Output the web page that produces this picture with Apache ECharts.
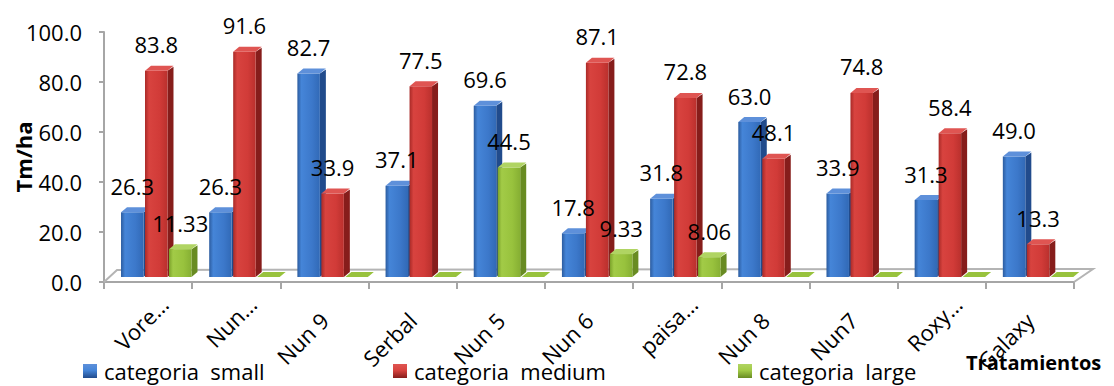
<!DOCTYPE html>
<html>
<head>
<meta charset="utf-8">
<script src="https://cdn.jsdelivr.net/npm/echarts@6/dist/echarts.min.js"></script>
<style>
  html, body { margin: 0; padding: 0; background: #ffffff; }
  #chart { width: 1114px; height: 386px; }
</style>
</head>
<body>
<div id="chart"></div>
<script>
// Yield per treatment (Tm/ha) by size category
const categories = ['Vore…', 'Nun…', 'Nun 9', 'Serbal', 'Nun 5', 'Nun 6', 'paisa…', 'Nun 8', 'Nun7', 'Roxy…', 'Galaxy'];
const small  = [26.3, 26.3, 82.7, 37.1, 69.6, 17.8, 31.8, 63.0, 33.9, 31.3, 49.0];
const medium = [83.8, 91.6, 33.9, 77.5, 44.5, 87.1, 72.8, 48.1, 74.8, 58.4, 13.3];
const large  = [11.33, 0, 0, 0, 0, 9.33, 8.06, 0, 0, 0, 0];
const seriesNames = ['categoria  small', 'categoria  medium', 'categoria  large'];
const labelDecimals = [1, 1, 2];
const yMin = 0, yMax = 100, yStep = 20;

// ---- styling ----
const FONT = '"Open Sans", "Liberation Sans", sans-serif';
const FS = 22;
const PAL = {
  blue:  { stops: ['#2C5C9F', '#4585D8', '#3C78CA', '#3169B6'], side: '#214B8C', top: '#5E90DA', flat: '#3C78CA' },
  red:   { stops: ['#A92A27', '#D8433F', '#D13B38', '#BA302D'], side: '#861D1B', top: '#DF5552', flat: '#D13B38' },
  green: { stops: ['#7BA22A', '#A2CB47', '#98C23D', '#86AF33'], side: '#688B22', top: '#B0D463', flat: '#98C23D' }
};
const seriesPalette = ['blue', 'red', 'green'];
// individually recoloured points: series index -> { category index: palette }
const pointPalette = { 1: { 4: 'green' } };

// bar geometry inside one category band (fractions of the band width)
const SLOT_OFFSET = [0.193, 0.465, 0.737];
const BAR_W = 0.255;
const DX = 6, DY = 5;        // depth of the bar's side/top faces
const LABEL_LIFT = 26.5;     // value label distance above the front top edge

function frontFill(p) {
  return new echarts.graphic.LinearGradient(0, 0, 1, 0, [
    { offset: 0, color: p.stops[0] },
    { offset: 0.18, color: p.stops[1] },
    { offset: 0.65, color: p.stops[2] },
    { offset: 1, color: p.stops[3] }
  ]);
}

function barGeom(slot, params, api) {
  const i = api.value(0), v = api.value(1);
  const base = api.coord([i, 0]);
  const top = api.coord([i, v]);
  const bw = api.size([1, 0])[0];
  const x = base[0] - bw / 2 + bw * SLOT_OFFSET[slot];
  return { i, v, x, w: bw * BAR_W, y0: base[1], y1: top[1] };
}

function barRenderer(slot) {
  return function (params, api) {
    const g = barGeom(slot, params, api);
    const over = pointPalette[slot] && pointPalette[slot][g.i];
    const p = PAL[over || seriesPalette[slot]];
    const { x, w, y0, y1 } = g;
    const kids = [];
    if (y0 - y1 > 0.5) {
      kids.push({
        type: 'polygon',
        shape: { points: [[x + w, y0], [x + w + DX, y0 - DY], [x + w + DX, y1 - DY + 1], [x + w, y1]] },
        style: { fill: p.side }
      });
      kids.push({
        type: 'rect',
        shape: { x: x, y: y1, width: w, height: y0 - y1 },
        style: { fill: frontFill(p) }
      });
    }
    kids.push({
      type: 'polygon',
      shape: { points: [[x, y1], [x + w, y1], [x + w + DX, y1 - DY], [x + DX, y1 - DY]] },
      style: { fill: y0 - y1 > 0.5 ? p.top : p.flat }
    });
    return { type: 'group', children: kids };
  };
}

function labelRenderer(slot) {
  return function (params, api) {
    const g = barGeom(slot, params, api);
    if (!(g.v > 0)) return null;
    return {
      type: 'text',
      x: g.x + g.w / 2,
      y: g.y1 - LABEL_LIFT,
      style: {
        text: g.v.toFixed(labelDecimals[slot]),
        fontSize: FS, fontFamily: FONT, fill: '#000000',
        align: 'center', verticalAlign: 'middle'
      }
    };
  };
}

const valueSets = [small, medium, large];
const asPairs = arr => arr.map((v, i) => [i, v]);

const series = [];
// floor of the plot (drawn behind the bars)
series.push({
  type: 'custom', xAxisIndex: 0, yAxisIndex: 0, silent: true, z: 1,
  data: [[0, 0]],
  renderItem: function (params, api) {
    const p0 = api.coord([0, 0]);
    const bw = api.size([1, 0])[0];
    const left = p0[0] - bw / 2, right = left + bw * categories.length, y = p0[1];
    return {
      type: 'polyline',
      shape: { points: [[left, y], [left + 13, y - 12], [right + 19, y - 13], [right, y]] },
      style: { stroke: '#B4B4B4', lineWidth: 2, fill: null }
    };
  }
});
valueSets.forEach((arr, s) => {
  series.push({
    name: seriesNames[s], type: 'custom', xAxisIndex: 1, yAxisIndex: 1, z: 2 + s,
    itemStyle: { color: PAL[seriesPalette[s]].flat },
    encode: { x: 0, y: 1 },
    data: asPairs(arr),
    renderItem: barRenderer(s)
  });
});
valueSets.forEach((arr, s) => {
  series.push({
    type: 'custom', xAxisIndex: 1, yAxisIndex: 1, z: 10, silent: true,
    encode: { x: 0, y: 1 },
    data: asPairs(arr),
    renderItem: labelRenderer(s)
  });
});

const legendIcon = name => new echarts.graphic.LinearGradient(0, 0, 0, 1, [
  { offset: 0, color: PAL[name].top },
  { offset: 0.45, color: PAL[name].stops[1] },
  { offset: 1, color: PAL[name].side }
]);
const legendLefts = [83, 393, 738];
const legends = seriesNames.map((n, s) => ({
  left: legendLefts[s], top: 360, orient: 'horizontal', selectedMode: false,
  itemWidth: 14, itemHeight: 14, itemGap: 0, padding: 0,
  textStyle: { fontSize: FS, fontFamily: FONT, color: '#000000', padding: [0, 0, 0, 2] },
  data: [{ name: n, icon: 'rect', itemStyle: { color: legendIcon(seriesPalette[s]) } }]
}));

const axisGray = '#A6A6A6';
const chart = echarts.init(document.getElementById('chart'), null, { renderer: 'svg' });
chart.setOption({
  animation: false,
  backgroundColor: '#ffffff',
  grid: [
    { left: 104, right: 40, top: 32, bottom: 104, outerBoundsMode: 'none' },   // axes frame
    { left: 104, right: 40, top: 31, bottom: 109, outerBoundsMode: 'none' },   // bars (3D floor plane)
    { left: 120, right: 24, top: 32, bottom: 104, outerBoundsMode: 'none' }    // category labels
  ],
  xAxis: [
    {
      gridIndex: 0, type: 'category', data: categories, boundaryGap: true,
      axisLine: { lineStyle: { color: axisGray, width: 2 } },
      axisTick: { show: true, length: 7, lineStyle: { color: axisGray, width: 2 } },
      axisLabel: { show: false }, splitLine: { show: false }
    },
    {
      gridIndex: 1, type: 'category', data: categories, boundaryGap: true,
      axisLine: { show: false }, axisTick: { show: false }, axisLabel: { show: false }
    },
    {
      gridIndex: 2, type: 'category', data: categories, boundaryGap: true,
      axisLine: { show: false }, axisTick: { show: false },
      axisLabel: {
        interval: 0, rotate: 45, margin: 18, color: '#000000',
        fontSize: FS, fontFamily: FONT,
        formatter: v => v.endsWith('…') ? '{t|' + v + '}' : '{n|' + v + '}',
        rich: {
          t: { fontSize: FS, fontFamily: FONT, color: '#000000' },
          n: { fontSize: FS, fontFamily: FONT, color: '#000000', padding: [0, 23, 0, 0] }
        }
      }
    }
  ],
  yAxis: [
    {
      gridIndex: 0, type: 'value', min: yMin, max: yMax, interval: yStep,
      name: 'Tm/ha', nameLocation: 'middle', nameRotate: 90, nameGap: 70, nameMoveOverlap: false,
      nameTextStyle: { fontSize: 22, fontWeight: 'bold', fontFamily: FONT, color: '#000000' },
      axisLine: { show: true, lineStyle: { color: axisGray, width: 2 } },
      axisTick: { show: true, length: 5, lineStyle: { color: axisGray, width: 2 } },
      axisLabel: { margin: 22, fontSize: FS, fontFamily: FONT, color: '#000000', formatter: v => v.toFixed(1) },
      splitLine: { show: false }
    },
    { gridIndex: 1, type: 'value', min: yMin, max: yMax, interval: yStep, show: false },
    { gridIndex: 2, type: 'value', min: yMin, max: yMax, interval: yStep, show: false }
  ],
  legend: legends,
  graphic: [{
    type: 'text', left: 966, top: 352, z: 20,
    style: { text: 'Tratamientos', fontSize: 20, fontWeight: 'bold', fontFamily: FONT, fill: '#000000' }
  }],
  series: series
});
</script>
</body>
</html>
